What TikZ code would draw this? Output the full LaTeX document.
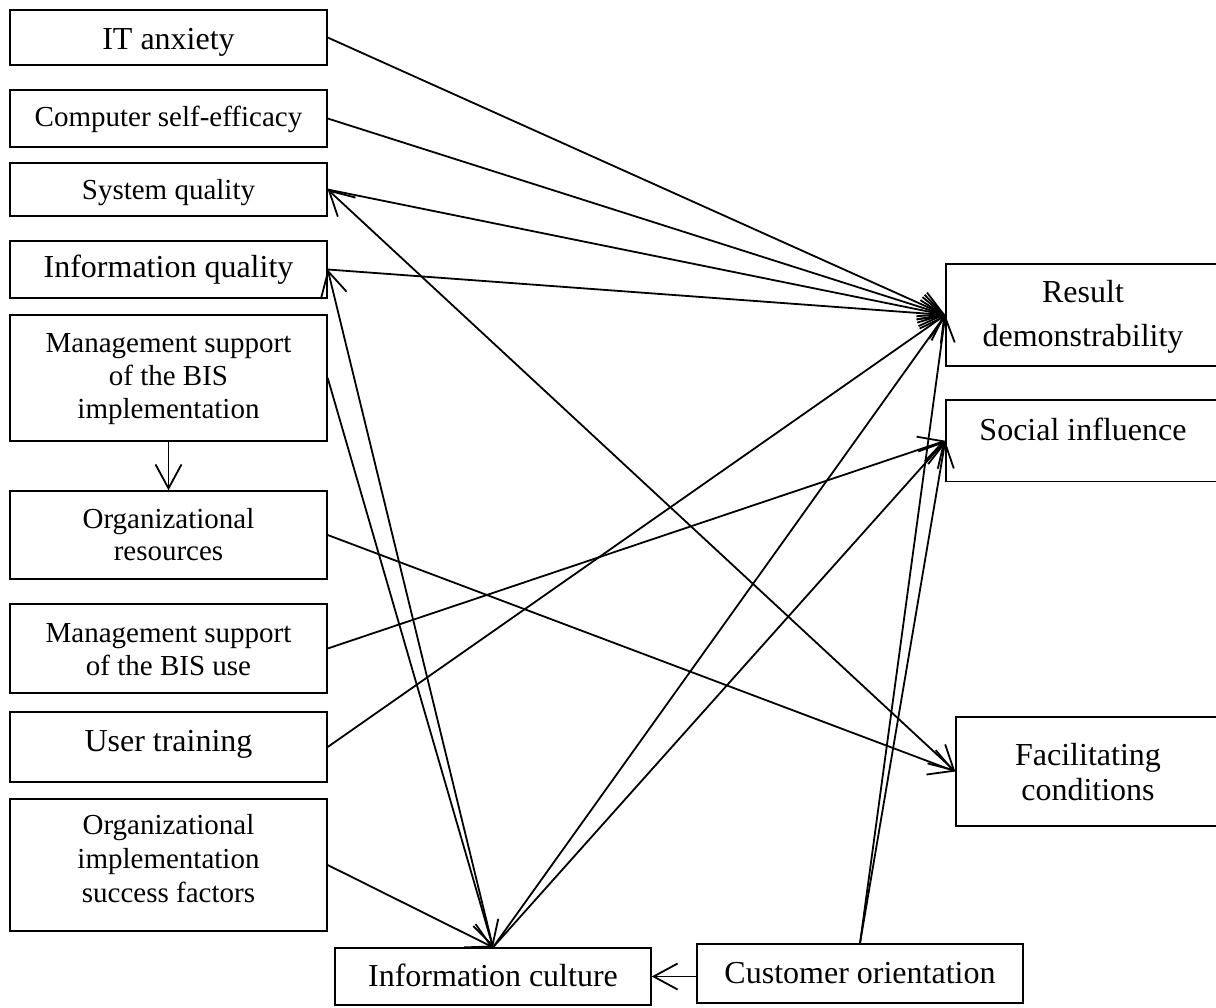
\documentclass[tikz,border=0pt]{standalone}
\usepackage{fontspec}
\setmainfont{Liberation Serif}
\usetikzlibrary{arrows.meta}
% centred block of lines, moved vertically without changing its reported size
\newcommand\boxtext[2]{\raisebox{#1}[\height][\depth]{\begin{tabular}{@{}c@{}}#2\end{tabular}}}

\begin{document}
\begin{tikzpicture}[x=1pt,y=-1pt,
  box/.style={draw=black, line width=1.4pt, rectangle, inner sep=0pt, fill=white},
  leftbox/.style={box, minimum width=317pt},
  rightbox/.style={box, minimum width=274pt},
  big/.style={font=\fontsize{32}{38}\selectfont},
  small/.style={font=\fontsize{29}{33}\selectfont},
  barb/.tip={Straight Barb[length=24pt,width=26pt]},
  arr/.style={line width=1.8pt, -barb},
  biarr/.style={line width=1.8pt, barb-barb},
]
\useasboundingbox (0,0) rectangle (1216,1008);
\fill[white] (0,0) rectangle (1216,1008);

% left column of factors
\node[leftbox, big, minimum height=55pt] (itA) at (168.5,37.5) {\boxtext{-4.9pt}{IT anxiety}};
\node[leftbox, small, minimum height=57pt] (cse) at (168.5,118.5) {\boxtext{-1.4pt}{Computer self-efficacy}};
\node[leftbox, small, minimum height=53pt] (sysq) at (168.5,189.5) {\boxtext{-3.9pt}{System quality}};
\node[leftbox, big, minimum height=57pt] (infq) at (168.5,269.5) {\boxtext{-0.9pt}{Information quality}};
\node[leftbox, small, minimum height=126pt] (msi) at (168.5,378) {\boxtext{-1.4pt}{Management support\\ of the BIS\\ implementation}};
\node[leftbox, font=\fontsize{29}{32}\selectfont, minimum height=88pt] (ores) at (168.5,535) {\boxtext{-2.6pt}{Organizational\\ resources}};
\node[leftbox, small, minimum height=89pt] (msu) at (168.5,648.5) {\boxtext{-3.4pt}{Management support\\ of the BIS use}};
\node[leftbox, big, minimum height=70pt] (ut) at (168.5,747) {\boxtext{2.9pt}{User training}};
\node[leftbox, font=\fontsize{29}{34}\selectfont, minimum height=132pt] (oisf) at (168.5,865) {\boxtext{3.8pt}{Organizational\\ implementation\\ success factors}};

% right column of outcomes
\node[rightbox, font=\fontsize{32}{44}\selectfont, minimum height=102pt] (rd) at (1083,315) {\boxtext{-1.2pt}{Result\\ demonstrability}};
\node[rightbox, big, minimum height=81.5pt] (si) at (1083,440.75) {\boxtext{7.6pt}{Social influence}};
\node[box, font=\fontsize{32}{35}\selectfont, minimum width=264pt, minimum height=109pt] (fc) at (1088,771.5) {\boxtext{-4pt}{Facilitating\\ conditions}};

% bottom row
\node[box, big, minimum width=316pt, minimum height=57pt] (ic) at (493,976.5) {\boxtext{-2.4pt}{Information culture}};
\node[box, big, minimum width=326pt, minimum height=59pt] (co) at (860,973.5) {\boxtext{-1.9pt}{Customer orientation}};

% links into result demonstrability
\draw[arr] (itA.east) -- (rd.west);
\draw[arr] (cse.east) -- (rd.west);
\draw[arr] (sysq.east) -- (rd.west);
\draw[arr] (infq.east) -- (rd.west);
\draw[arr] (ut.east) -- (rd.west);
\draw[arr] (ic.north) -- (rd.west);
\draw[arr] (co.north) -- (rd.west);

% links into social influence
\draw[arr] (msu.east) -- (si.west);
\draw[arr] (ic.north) -- (si.west);
\draw[arr] (co.north) -- (si.west);

% links into facilitating conditions
\draw[arr] (ores.east) -- (fc.west);
\draw[biarr] (sysq.east) -- (fc.west);

% links around information culture
\draw[arr] (ic.north) -- (infq.east);
\draw[arr] (msi.east) -- (ic.north);
\draw[arr] (oisf.east) -- (ic.north);
\draw[arr] (co.west |- ic.east) -- (ic.east);

% management support feeds resources
\draw[arr] (msi.south) -- (ores.north);
\end{tikzpicture}
\end{document}
